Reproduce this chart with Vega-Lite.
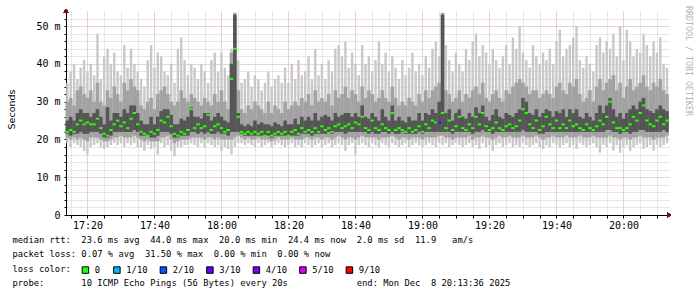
{
"$schema": "https://vega.github.io/schema/vega-lite/v6.json",
"width": 603, "height": 204,
"autosize": "none",
"padding": {"left": 66, "top": 11, "right": 28, "bottom": 82},
"background": "white",
"config": {"view": {"stroke": null}, "axis": {"labelOverlap": false}, "scale": {"continuousPadding": 0}},
"title": {"text": "RRDTOOL / TOBI OETIKER", "orient": "right", "anchor": "start", "angle": 90, "font": "DejaVu Sans Mono", "fontSize": 8.3, "fontWeight": "normal", "color": "#b4b4b4", "offset": 9, "dx": -5, "frame": "group", "baseline": "middle"},
"data": {"values": [
{"t":"2025-12-08T17:14","a":19,"b":20.5,"c":21.5,"m":22,"d":25,"e":30,"f":35,"l":"0"},
{"t":"2025-12-08T17:15","a":18,"b":20,"c":21,"m":22.5,"d":26,"e":31,"f":38,"l":"0"},
{"t":"2025-12-08T17:16","a":19,"b":20.5,"c":21.5,"m":22,"d":25,"e":29,"f":40,"l":"0"},
{"t":"2025-12-08T17:17","a":18.5,"b":20,"c":21.5,"m":24,"d":27,"e":33,"f":36,"l":"0"},
{"t":"2025-12-08T17:18","a":18,"b":20.5,"c":22,"m":25,"d":28,"e":34,"f":39,"l":"0"},
{"t":"2025-12-08T17:19","a":17,"b":20,"c":21.5,"m":24,"d":27,"e":32,"f":41,"l":"0"},
{"t":"2025-12-08T17:20","a":16,"b":19.5,"c":21.5,"m":24.5,"d":27,"e":31,"f":38,"l":"0"},
{"t":"2025-12-08T17:21","a":18,"b":20.5,"c":22,"m":24,"d":26,"e":33,"f":40,"l":"0"},
{"t":"2025-12-08T17:22","a":18.5,"b":20.5,"c":22,"m":24,"d":27,"e":30,"f":37,"l":"0"},
{"t":"2025-12-08T17:23","a":19,"b":20.5,"c":22,"m":25.5,"d":28,"e":35,"f":48,"l":"0"},
{"t":"2025-12-08T17:24","a":18,"b":20,"c":21.5,"m":23,"d":26,"e":30,"f":36,"l":"0"},
{"t":"2025-12-08T17:25","a":17.5,"b":19.5,"c":20.5,"m":21.5,"d":24,"e":29,"f":42,"l":"0"},
{"t":"2025-12-08T17:26","a":18,"b":19.5,"c":20.5,"m":21,"d":28.5,"e":33,"f":44,"l":"0"},
{"t":"2025-12-08T17:27","a":18.5,"b":20,"c":21,"m":22.5,"d":25,"e":31,"f":40,"l":"0"},
{"t":"2025-12-08T17:28","a":19,"b":20.5,"c":22,"m":24,"d":27,"e":34,"f":43,"l":"0"},
{"t":"2025-12-08T17:29","a":18.5,"b":20.5,"c":22,"m":25,"d":27,"e":32,"f":38,"l":"0"},
{"t":"2025-12-08T17:30","a":19,"b":21,"c":22,"m":23.5,"d":26,"e":30,"f":37,"l":"0"},
{"t":"2025-12-08T17:31","a":18,"b":20.5,"c":22,"m":24.5,"d":28,"e":35,"f":45,"l":"0"},
{"t":"2025-12-08T17:32","a":19,"b":20.5,"c":22,"m":23,"d":27,"e":33,"f":39,"l":"0"},
{"t":"2025-12-08T17:33","a":18.5,"b":20.5,"c":22,"m":25.5,"d":29,"e":36,"f":44,"l":"0"},
{"t":"2025-12-08T17:34","a":19,"b":21,"c":22.5,"m":27,"d":29,"e":34,"f":40,"l":"0"},
{"t":"2025-12-08T17:35","a":18,"b":20.5,"c":22,"m":24,"d":27,"e":33,"f":38,"l":"0"},
{"t":"2025-12-08T17:36","a":18,"b":20,"c":21,"m":22,"d":25,"e":29,"f":36,"l":"0"},
{"t":"2025-12-08T17:37","a":17,"b":19.5,"c":21,"m":21.5,"d":24,"e":28,"f":34,"l":"0"},
{"t":"2025-12-08T17:38","a":18.5,"b":20,"c":21,"m":21,"d":24,"e":30,"f":41,"l":"0"},
{"t":"2025-12-08T17:39","a":17.5,"b":19.5,"c":20.5,"m":22,"d":26,"e":31,"f":45,"l":"0"},
{"t":"2025-12-08T17:40","a":18,"b":19.5,"c":20.5,"m":21.5,"d":24,"e":28,"f":39,"l":"0"},
{"t":"2025-12-08T17:41","a":16,"b":19.5,"c":21,"m":22.5,"d":26,"e":32,"f":43,"l":"0"},
{"t":"2025-12-08T17:42","a":19,"b":20.5,"c":22,"m":25,"d":27.5,"e":33,"f":42,"l":"0"},
{"t":"2025-12-08T17:43","a":18,"b":20.5,"c":22,"m":24.5,"d":28,"e":34,"f":38,"l":"0"},
{"t":"2025-12-08T17:44","a":18.5,"b":21,"c":22,"m":26,"d":28,"e":32,"f":37,"l":"0"},
{"t":"2025-12-08T17:45","a":17,"b":20,"c":21.5,"m":23.5,"d":26.5,"e":30,"f":40,"l":"0"},
{"t":"2025-12-08T17:46","a":15.5,"b":19,"c":20.5,"m":21.5,"d":24,"e":29,"f":35,"l":"0"},
{"t":"2025-12-08T17:47","a":18,"b":19.5,"c":20.5,"m":21,"d":24,"e":30,"f":44,"l":"0"},
{"t":"2025-12-08T17:48","a":18,"b":20,"c":21,"m":22,"d":25.5,"e":33,"f":47,"l":"0"},
{"t":"2025-12-08T17:49","a":18.5,"b":20,"c":21,"m":21.5,"d":25,"e":31,"f":41,"l":"0"},
{"t":"2025-12-08T17:50","a":18.5,"b":20,"c":21,"m":22.5,"d":26,"e":30,"f":37,"l":"0"},
{"t":"2025-12-08T17:51","a":19,"b":20.5,"c":22,"m":28,"d":28.5,"e":32,"f":40,"l":"0"},
{"t":"2025-12-08T17:52","a":18.5,"b":20.5,"c":22,"m":23,"d":26,"e":31,"f":39,"l":"0"},
{"t":"2025-12-08T17:53","a":18,"b":20.5,"c":21.5,"m":24,"d":26,"e":30,"f":36,"l":"0"},
{"t":"2025-12-08T17:54","a":19,"b":20.5,"c":22,"m":23,"d":25.5,"e":29,"f":40,"l":"0"},
{"t":"2025-12-08T17:55","a":18,"b":20,"c":21.5,"m":23.5,"d":27,"e":31,"f":38,"l":"0"},
{"t":"2025-12-08T17:56","a":19,"b":20.5,"c":22,"m":26.5,"d":27,"e":30,"f":35,"l":"0"},
{"t":"2025-12-08T17:57","a":18.5,"b":20.5,"c":21.5,"m":22.5,"d":25,"e":29,"f":41,"l":"0"},
{"t":"2025-12-08T17:58","a":18,"b":20,"c":21.5,"m":23.5,"d":26,"e":32,"f":43,"l":"0"},
{"t":"2025-12-08T17:59","a":18.5,"b":20.5,"c":22,"m":24,"d":27,"e":30,"f":38,"l":"0"},
{"t":"2025-12-08T18:00","a":17,"b":20,"c":21.5,"m":23,"d":26,"e":33,"f":43,"l":"0"},
{"t":"2025-12-08T18:01","a":18,"b":20,"c":21.5,"m":22,"d":25,"e":30,"f":39,"l":"0"},
{"t":"2025-12-08T18:02","a":17.5,"b":20,"c":21,"m":22.5,"d":24.5,"e":28,"f":37,"l":"0"},
{"t":"2025-12-08T18:03","a":16,"b":20,"c":22,"m":36,"d":40,"e":43,"f":44,"l":"0"},
{"t":"2025-12-08T18:04","a":18,"b":20.5,"c":22,"m":44,"d":53,"e":53.5,"f":53.5,"l":"0"},
{"t":"2025-12-08T18:05","a":19,"b":21,"c":22,"m":26,"d":27,"e":33,"f":41,"l":"0"},
{"t":"2025-12-08T18:06","a":19,"b":20.5,"c":21.5,"m":22,"d":24,"e":28,"f":35,"l":"0"},
{"t":"2025-12-08T18:07","a":18.5,"b":20,"c":21,"m":21.5,"d":23.5,"e":27,"f":36,"l":"0"},
{"t":"2025-12-08T18:08","a":19,"b":20.5,"c":21,"m":22,"d":24,"e":29,"f":38,"l":"0"},
{"t":"2025-12-08T18:09","a":18.5,"b":20,"c":21,"m":21.5,"d":23.5,"e":28,"f":34,"l":"0"},
{"t":"2025-12-08T18:10","a":18,"b":20,"c":21,"m":22,"d":25,"e":30,"f":37,"l":"0"},
{"t":"2025-12-08T18:11","a":19,"b":20.5,"c":21,"m":21.5,"d":24,"e":29,"f":36,"l":"0"},
{"t":"2025-12-08T18:12","a":18,"b":20,"c":21,"m":22,"d":24.5,"e":28,"f":33,"l":"0"},
{"t":"2025-12-08T18:13","a":18.5,"b":20,"c":21,"m":21,"d":24,"e":27,"f":35,"l":"0"},
{"t":"2025-12-08T18:14","a":19,"b":20,"c":21,"m":22,"d":24,"e":30,"f":38,"l":"0"},
{"t":"2025-12-08T18:15","a":18,"b":19.5,"c":20.5,"m":21,"d":23.5,"e":27,"f":34,"l":"0"},
{"t":"2025-12-08T18:16","a":18.5,"b":20,"c":21,"m":21.5,"d":24.5,"e":29,"f":36,"l":"0"},
{"t":"2025-12-08T18:17","a":19,"b":20.5,"c":21,"m":22,"d":24,"e":28,"f":37,"l":"0"},
{"t":"2025-12-08T18:18","a":18.5,"b":20,"c":21,"m":21.5,"d":23.5,"e":27,"f":35,"l":"0"},
{"t":"2025-12-08T18:19","a":18,"b":20,"c":21,"m":22,"d":25,"e":30,"f":39,"l":"0"},
{"t":"2025-12-08T18:20","a":18.5,"b":20,"c":21,"m":21,"d":24,"e":28,"f":35,"l":"0"},
{"t":"2025-12-08T18:21","a":19,"b":20.5,"c":21,"m":22,"d":24,"e":29,"f":40,"l":"0"},
{"t":"2025-12-08T18:22","a":18,"b":20,"c":21,"m":22.5,"d":25.5,"e":30,"f":36,"l":"0"},
{"t":"2025-12-08T18:23","a":18.5,"b":20,"c":21,"m":21.5,"d":24,"e":29,"f":41,"l":"0"},
{"t":"2025-12-08T18:24","a":18,"b":20,"c":21.5,"m":23,"d":26,"e":31,"f":37,"l":"0"},
{"t":"2025-12-08T18:25","a":19,"b":20.5,"c":21.5,"m":22,"d":25,"e":30,"f":38,"l":"0"},
{"t":"2025-12-08T18:26","a":18.5,"b":20.5,"c":21.5,"m":22.5,"d":26,"e":32,"f":42,"l":"0"},
{"t":"2025-12-08T18:27","a":18,"b":20,"c":21,"m":22,"d":25,"e":29,"f":36,"l":"0"},
{"t":"2025-12-08T18:28","a":18.5,"b":20.5,"c":21.5,"m":23,"d":27,"e":33,"f":44,"l":"0"},
{"t":"2025-12-08T18:29","a":19,"b":20.5,"c":21.5,"m":22,"d":25,"e":30,"f":37,"l":"0"},
{"t":"2025-12-08T18:30","a":18,"b":20,"c":21.5,"m":23.5,"d":26,"e":31,"f":40,"l":"0"},
{"t":"2025-12-08T18:31","a":18.5,"b":20.5,"c":21.5,"m":22.5,"d":26.5,"e":30,"f":36,"l":"0"},
{"t":"2025-12-08T18:32","a":19,"b":20.5,"c":22,"m":23,"d":26,"e":32,"f":41,"l":"0"},
{"t":"2025-12-08T18:33","a":18,"b":20,"c":21.5,"m":22,"d":25,"e":29,"f":38,"l":"0"},
{"t":"2025-12-08T18:34","a":18.5,"b":20.5,"c":22,"m":23.5,"d":27,"e":33,"f":44,"l":"0"},
{"t":"2025-12-08T18:35","a":19,"b":21,"c":22,"m":24,"d":26,"e":31,"f":45,"l":"0"},
{"t":"2025-12-08T18:36","a":18.5,"b":20.5,"c":22,"m":23,"d":26.5,"e":32,"f":42,"l":"0"},
{"t":"2025-12-08T18:37","a":17,"b":20,"c":21.5,"m":23.5,"d":27,"e":34,"f":46,"l":"0"},
{"t":"2025-12-08T18:38","a":18.5,"b":20.5,"c":22,"m":24,"d":27,"e":31,"f":39,"l":"0"},
{"t":"2025-12-08T18:39","a":19,"b":20.5,"c":22,"m":23,"d":26,"e":33,"f":43,"l":"0"},
{"t":"2025-12-08T18:40","a":16,"b":20,"c":22,"m":24.5,"d":27,"e":32,"f":40,"l":"0"},
{"t":"2025-12-08T18:41","a":18.5,"b":20.5,"c":22,"m":24,"d":26,"e":30,"f":37,"l":"0"},
{"t":"2025-12-08T18:42","a":19,"b":21,"c":22,"m":26,"d":29,"e":34,"f":45,"l":"0"},
{"t":"2025-12-08T18:43","a":18.5,"b":20.5,"c":22,"m":23,"d":26,"e":31,"f":40,"l":"0"},
{"t":"2025-12-08T18:44","a":18,"b":20.5,"c":21.5,"m":22.5,"d":25.5,"e":33,"f":42,"l":"0"},
{"t":"2025-12-08T18:45","a":19,"b":20.5,"c":22,"m":25,"d":27,"e":32,"f":38,"l":"0"},
{"t":"2025-12-08T18:46","a":18.5,"b":20.5,"c":21.5,"m":23,"d":26,"e":30,"f":41,"l":"0"},
{"t":"2025-12-08T18:47","a":18,"b":20,"c":21.5,"m":22.5,"d":25,"e":31,"f":46,"l":"0"},
{"t":"2025-12-08T18:48","a":19,"b":20.5,"c":22,"m":24,"d":28,"e":33,"f":40,"l":"0"},
{"t":"2025-12-08T18:49","a":18.5,"b":20.5,"c":22,"m":23,"d":26,"e":31,"f":43,"l":"0"},
{"t":"2025-12-08T18:50","a":18,"b":20.5,"c":21.5,"m":22.5,"d":25,"e":30,"f":38,"l":"0"},
{"t":"2025-12-08T18:51","a":19,"b":21,"c":22,"m":27,"d":29,"e":34,"f":42,"l":"0"},
{"t":"2025-12-08T18:52","a":18.5,"b":20.5,"c":21.5,"m":22.5,"d":25,"e":31,"f":39,"l":"0"},
{"t":"2025-12-08T18:53","a":18,"b":20,"c":21.5,"m":23,"d":26,"e":29,"f":36,"l":"0"},
{"t":"2025-12-08T18:54","a":18.5,"b":20.5,"c":22,"m":22.5,"d":25,"e":30,"f":41,"l":"0"},
{"t":"2025-12-08T18:55","a":19,"b":20.5,"c":21.5,"m":22,"d":24.5,"e":29,"f":37,"l":"0"},
{"t":"2025-12-08T18:56","a":18,"b":20,"c":21.5,"m":23,"d":26,"e":31,"f":39,"l":"0"},
{"t":"2025-12-08T18:57","a":18.5,"b":20.5,"c":21.5,"m":22,"d":25,"e":30,"f":43,"l":"0"},
{"t":"2025-12-08T18:58","a":19,"b":20.5,"c":21.5,"m":22.5,"d":25,"e":29,"f":38,"l":"0"},
{"t":"2025-12-08T18:59","a":18.5,"b":20.5,"c":22,"m":23.5,"d":27,"e":32,"f":40,"l":"0"},
{"t":"2025-12-08T19:00","a":18,"b":20,"c":21.5,"m":22,"d":25,"e":30,"f":37,"l":"0"},
{"t":"2025-12-08T19:01","a":18.5,"b":20.5,"c":22,"m":24,"d":27,"e":33,"f":42,"l":"0"},
{"t":"2025-12-08T19:02","a":19,"b":20.5,"c":22,"m":23,"d":26.5,"e":31,"f":39,"l":"0"},
{"t":"2025-12-08T19:03","a":18.5,"b":20.5,"c":22,"m":25,"d":28,"e":33,"f":44,"l":"0"},
{"t":"2025-12-08T19:04","a":18,"b":20.5,"c":22,"m":24.5,"d":27,"e":34,"f":46,"l":"0"},
{"t":"2025-12-08T19:05","a":19,"b":21,"c":22,"m":24.5,"d":30,"e":35,"f":42,"l":"3/10"},
{"t":"2025-12-08T19:06","a":18.5,"b":21,"c":22,"m":27,"d":53,"e":53.5,"f":53.5,"l":"0"},
{"t":"2025-12-08T19:07","a":19,"b":20.5,"c":22,"m":23,"d":27,"e":33,"f":45,"l":"0"},
{"t":"2025-12-08T19:08","a":18,"b":20.5,"c":22,"m":25,"d":28,"e":32,"f":41,"l":"0"},
{"t":"2025-12-08T19:09","a":18.5,"b":20,"c":21.5,"m":22.5,"d":25,"e":30,"f":38,"l":"0"},
{"t":"2025-12-08T19:10","a":19,"b":20.5,"c":22,"m":23.5,"d":27,"e":31,"f":43,"l":"0"},
{"t":"2025-12-08T19:11","a":18.5,"b":20.5,"c":22,"m":26,"d":28,"e":33,"f":40,"l":"0"},
{"t":"2025-12-08T19:12","a":18,"b":20.5,"c":22,"m":23,"d":26,"e":30,"f":38,"l":"0"},
{"t":"2025-12-08T19:13","a":18.5,"b":20.5,"c":22,"m":22.5,"d":25.5,"e":32,"f":44,"l":"0"},
{"t":"2025-12-08T19:14","a":19,"b":21,"c":22,"m":24,"d":27,"e":31,"f":41,"l":"0"},
{"t":"2025-12-08T19:15","a":18,"b":20,"c":21.5,"m":23,"d":26,"e":33,"f":46,"l":"0"},
{"t":"2025-12-08T19:16","a":18.5,"b":20.5,"c":22,"m":26,"d":28.5,"e":34,"f":48,"l":"0"},
{"t":"2025-12-08T19:17","a":17.5,"b":20.5,"c":22,"m":24,"d":27,"e":32,"f":42,"l":"0"},
{"t":"2025-12-08T19:18","a":19,"b":21,"c":22.5,"m":27,"d":29,"e":35,"f":45,"l":"0"},
{"t":"2025-12-08T19:19","a":18,"b":20.5,"c":22,"m":23.5,"d":26,"e":31,"f":43,"l":"0"},
{"t":"2025-12-08T19:20","a":18.5,"b":20.5,"c":22,"m":22.5,"d":25,"e":30,"f":40,"l":"0"},
{"t":"2025-12-08T19:21","a":17,"b":20,"c":21.5,"m":23,"d":26.5,"e":32,"f":44,"l":"0"},
{"t":"2025-12-08T19:22","a":18.5,"b":20.5,"c":22,"m":24.5,"d":28,"e":33,"f":41,"l":"0"},
{"t":"2025-12-08T19:23","a":19,"b":21,"c":22,"m":23,"d":26,"e":31,"f":39,"l":"0"},
{"t":"2025-12-08T19:24","a":18,"b":20.5,"c":22,"m":22.5,"d":25.5,"e":30,"f":42,"l":"0"},
{"t":"2025-12-08T19:25","a":18.5,"b":20.5,"c":22,"m":23.5,"d":27,"e":33,"f":45,"l":"0"},
{"t":"2025-12-08T19:26","a":19,"b":21,"c":22,"m":24,"d":26.5,"e":32,"f":40,"l":"0"},
{"t":"2025-12-08T19:27","a":18,"b":20.5,"c":22,"m":23,"d":26,"e":34,"f":47,"l":"0"},
{"t":"2025-12-08T19:28","a":18.5,"b":20.5,"c":22,"m":23.5,"d":27,"e":35,"f":44,"l":"0"},
{"t":"2025-12-08T19:29","a":18,"b":20.5,"c":22,"m":25,"d":28,"e":36,"f":50,"l":"0"},
{"t":"2025-12-08T19:30","a":19,"b":21,"c":22.5,"m":28,"d":31,"e":35,"f":43,"l":"0"},
{"t":"2025-12-08T19:31","a":18.5,"b":20.5,"c":22,"m":27,"d":30,"e":34,"f":41,"l":"0"},
{"t":"2025-12-08T19:32","a":18,"b":20.5,"c":22,"m":24,"d":27,"e":32,"f":39,"l":"0"},
{"t":"2025-12-08T19:33","a":18.5,"b":20.5,"c":22,"m":23,"d":26.5,"e":33,"f":45,"l":"0"},
{"t":"2025-12-08T19:34","a":19,"b":21,"c":22,"m":25,"d":28,"e":33,"f":42,"l":"0"},
{"t":"2025-12-08T19:35","a":18,"b":20.5,"c":21.5,"m":22.5,"d":26,"e":31,"f":40,"l":"0"},
{"t":"2025-12-08T19:36","a":17.5,"b":20,"c":21.5,"m":23.5,"d":27,"e":32,"f":43,"l":"0"},
{"t":"2025-12-08T19:37","a":18.5,"b":20.5,"c":22,"m":26,"d":28,"e":33,"f":41,"l":"0"},
{"t":"2025-12-08T19:38","a":18,"b":20.5,"c":22,"m":24,"d":27.5,"e":32,"f":44,"l":"0"},
{"t":"2025-12-08T19:39","a":19,"b":21,"c":22,"m":23,"d":26,"e":31,"f":40,"l":"0"},
{"t":"2025-12-08T19:40","a":18.5,"b":20.5,"c":22,"m":25,"d":27.5,"e":34,"f":46,"l":"0"},
{"t":"2025-12-08T19:41","a":18,"b":20.5,"c":22,"m":23,"d":27,"e":35,"f":49,"l":"0"},
{"t":"2025-12-08T19:42","a":18.5,"b":20.5,"c":22,"m":24,"d":28,"e":33,"f":42,"l":"0"},
{"t":"2025-12-08T19:43","a":19,"b":21,"c":22,"m":23,"d":26,"e":32,"f":44,"l":"0"},
{"t":"2025-12-08T19:44","a":18,"b":20.5,"c":22,"m":25,"d":28,"e":35,"f":45,"l":"0"},
{"t":"2025-12-08T19:45","a":18.5,"b":20.5,"c":22,"m":23.5,"d":27,"e":34,"f":47,"l":"0"},
{"t":"2025-12-08T19:46","a":17.5,"b":20.5,"c":22,"m":24,"d":28,"e":36,"f":50,"l":"0"},
{"t":"2025-12-08T19:47","a":19,"b":21,"c":22,"m":23,"d":26,"e":32,"f":41,"l":"0"},
{"t":"2025-12-08T19:48","a":18.5,"b":20.5,"c":22,"m":22.5,"d":25.5,"e":30,"f":39,"l":"0"},
{"t":"2025-12-08T19:49","a":18,"b":20.5,"c":22,"m":24,"d":27,"e":31,"f":42,"l":"0"},
{"t":"2025-12-08T19:50","a":18.5,"b":20.5,"c":22,"m":23,"d":26,"e":33,"f":40,"l":"0"},
{"t":"2025-12-08T19:51","a":19,"b":21,"c":22,"m":22.5,"d":25,"e":30,"f":38,"l":"0"},
{"t":"2025-12-08T19:52","a":18,"b":20.5,"c":22,"m":23.5,"d":27,"e":34,"f":45,"l":"0"},
{"t":"2025-12-08T19:53","a":16.5,"b":20.5,"c":22,"m":25,"d":29,"e":36,"f":47,"l":"0"},
{"t":"2025-12-08T19:54","a":18.5,"b":20.5,"c":22,"m":24,"d":27,"e":33,"f":43,"l":"0"},
{"t":"2025-12-08T19:55","a":18,"b":20.5,"c":22.5,"m":26,"d":29,"e":35,"f":46,"l":"0"},
{"t":"2025-12-08T19:56","a":19,"b":21,"c":22.5,"m":30,"d":31,"e":36,"f":44,"l":"0"},
{"t":"2025-12-08T19:57","a":17,"b":20.5,"c":22,"m":24.5,"d":28,"e":37,"f":48,"l":"0"},
{"t":"2025-12-08T19:58","a":18.5,"b":20.5,"c":22,"m":23,"d":26,"e":33,"f":42,"l":"0"},
{"t":"2025-12-08T19:59","a":16.5,"b":20,"c":21.5,"m":23,"d":27,"e":35,"f":50,"l":"0"},
{"t":"2025-12-08T20:00","a":18,"b":20.5,"c":22,"m":22.5,"d":25.5,"e":31,"f":41,"l":"0"},
{"t":"2025-12-08T20:01","a":18.5,"b":20.5,"c":22,"m":23,"d":27,"e":34,"f":49,"l":"0"},
{"t":"2025-12-08T20:02","a":17,"b":20,"c":21.5,"m":24,"d":28,"e":36,"f":46,"l":"0"},
{"t":"2025-12-08T20:03","a":18,"b":20.5,"c":22,"m":26,"d":29,"e":33,"f":42,"l":"0"},
{"t":"2025-12-08T20:04","a":18.5,"b":20.5,"c":22,"m":25,"d":28,"e":34,"f":44,"l":"0"},
{"t":"2025-12-08T20:05","a":19,"b":21,"c":22.5,"m":27,"d":30,"e":35,"f":43,"l":"0"},
{"t":"2025-12-08T20:06","a":17.5,"b":20.5,"c":22.5,"m":29,"d":31,"e":37,"f":48,"l":"0"},
{"t":"2025-12-08T20:07","a":18,"b":20.5,"c":22,"m":25,"d":28,"e":34,"f":45,"l":"0"},
{"t":"2025-12-08T20:08","a":18.5,"b":20.5,"c":22,"m":24,"d":27.5,"e":33,"f":42,"l":"0"},
{"t":"2025-12-08T20:09","a":17,"b":20,"c":22,"m":23.5,"d":27,"e":35,"f":46,"l":"0"},
{"t":"2025-12-08T20:10","a":18.5,"b":20.5,"c":22,"m":25,"d":28,"e":34,"f":43,"l":"0"},
{"t":"2025-12-08T20:11","a":18,"b":20.5,"c":22,"m":26,"d":29,"e":36,"f":47,"l":"0"},
{"t":"2025-12-08T20:12","a":18.5,"b":20.5,"c":22.5,"m":24,"d":28,"e":33,"f":40,"l":"0"},
{"t":"2025-12-08T20:13","a":19,"b":21,"c":22,"m":25,"d":27.5,"e":32,"f":39,"l":"0"}
]},
"encoding": {
  "x": {"field": "t", "type": "temporal",
    "scale": {"domain": [{"year": 2025, "month": 12, "date": 8, "hours": 17, "minutes": 13, "seconds": 36}, {"year": 2025, "month": 12, "date": 8, "hours": 20, "minutes": 13, "seconds": 36}], "padding": 0},
    "axis": {
      "title": ["median\u00a0rtt:\u00a0\u00a023.6\u00a0ms\u00a0avg\u00a0\u00a044.0\u00a0ms\u00a0max\u00a0\u00a020.0\u00a0ms\u00a0min\u00a0\u00a024.4\u00a0ms\u00a0now\u00a0\u00a02.0\u00a0ms\u00a0sd\u00a0\u00a011.9\u00a0\u00a0\u00a0am/s",
                "packet\u00a0loss:\u00a00.07\u00a0%\u00a0avg\u00a0\u00a031.50\u00a0%\u00a0max\u00a0\u00a00.00\u00a0%\u00a0min\u00a0\u00a00.00\u00a0%\u00a0now",
                "loss\u00a0color:",
                "probe:\u00a0\u00a0\u00a0\u00a0\u00a0\u00a0\u00a010\u00a0ICMP\u00a0Echo\u00a0Pings\u00a0(56\u00a0Bytes)\u00a0every\u00a020s\u00a0\u00a0\u00a0\u00a0\u00a0\u00a0\u00a0\u00a0\u00a0\u00a0\u00a0\u00a0\u00a0end:\u00a0Mon\u00a0Dec\u00a0\u00a08\u00a020:13:36\u00a02025"],
      "titleFont": "DejaVu Sans Mono", "titleFontSize": 8.8, "titleFontWeight": "normal", "titleColor": "#000000",
      "titleAnchor": "start", "titleAlign": "left", "titleBaseline": "alphabetic", "titleX": -54, "titleY": 27.5, "titleLineHeight": 14.3, "titleLimit": 1000, "titleAngle": 0,
      "tickCount": 100,
      "values": [
        {"year": 2025, "month": 12, "date": 8, "hours": 17, "minutes": 15}, {"year": 2025, "month": 12, "date": 8, "hours": 17, "minutes": 20},
        {"year": 2025, "month": 12, "date": 8, "hours": 17, "minutes": 25}, {"year": 2025, "month": 12, "date": 8, "hours": 17, "minutes": 30},
        {"year": 2025, "month": 12, "date": 8, "hours": 17, "minutes": 35}, {"year": 2025, "month": 12, "date": 8, "hours": 17, "minutes": 40},
        {"year": 2025, "month": 12, "date": 8, "hours": 17, "minutes": 45}, {"year": 2025, "month": 12, "date": 8, "hours": 17, "minutes": 50},
        {"year": 2025, "month": 12, "date": 8, "hours": 17, "minutes": 55}, {"year": 2025, "month": 12, "date": 8, "hours": 18, "minutes": 0},
        {"year": 2025, "month": 12, "date": 8, "hours": 18, "minutes": 5}, {"year": 2025, "month": 12, "date": 8, "hours": 18, "minutes": 10},
        {"year": 2025, "month": 12, "date": 8, "hours": 18, "minutes": 15}, {"year": 2025, "month": 12, "date": 8, "hours": 18, "minutes": 20},
        {"year": 2025, "month": 12, "date": 8, "hours": 18, "minutes": 25}, {"year": 2025, "month": 12, "date": 8, "hours": 18, "minutes": 30},
        {"year": 2025, "month": 12, "date": 8, "hours": 18, "minutes": 35}, {"year": 2025, "month": 12, "date": 8, "hours": 18, "minutes": 40},
        {"year": 2025, "month": 12, "date": 8, "hours": 18, "minutes": 45}, {"year": 2025, "month": 12, "date": 8, "hours": 18, "minutes": 50},
        {"year": 2025, "month": 12, "date": 8, "hours": 18, "minutes": 55}, {"year": 2025, "month": 12, "date": 8, "hours": 19, "minutes": 0},
        {"year": 2025, "month": 12, "date": 8, "hours": 19, "minutes": 5}, {"year": 2025, "month": 12, "date": 8, "hours": 19, "minutes": 10},
        {"year": 2025, "month": 12, "date": 8, "hours": 19, "minutes": 15}, {"year": 2025, "month": 12, "date": 8, "hours": 19, "minutes": 20},
        {"year": 2025, "month": 12, "date": 8, "hours": 19, "minutes": 25}, {"year": 2025, "month": 12, "date": 8, "hours": 19, "minutes": 30},
        {"year": 2025, "month": 12, "date": 8, "hours": 19, "minutes": 35}, {"year": 2025, "month": 12, "date": 8, "hours": 19, "minutes": 40},
        {"year": 2025, "month": 12, "date": 8, "hours": 19, "minutes": 45}, {"year": 2025, "month": 12, "date": 8, "hours": 19, "minutes": 50},
        {"year": 2025, "month": 12, "date": 8, "hours": 19, "minutes": 55}, {"year": 2025, "month": 12, "date": 8, "hours": 20, "minutes": 0},
        {"year": 2025, "month": 12, "date": 8, "hours": 20, "minutes": 5}, {"year": 2025, "month": 12, "date": 8, "hours": 20, "minutes": 10}],
      "labelExpr": "minutes(datum.value) % 20 == 0 ? timeFormat(datum.value, '%H:%M') : ''",
      "labelFont": "DejaVu Sans Mono", "labelFontSize": 10, "labelColor": "#000000", "labelPadding": 2, "labelFlush": false, "labelOverlap": false,
      "grid": true, "gridColor": {"condition": {"test": "minutes(datum.value) % 20 == 0", "value": "#dca4a4"}, "value": "#cfcfcf"}, "gridDash": [1, 1], "gridWidth": 1,
      "domainColor": "#000000", "domainWidth": 1, "tickColor": "#000000", "tickSize": 3, "tickWidth": 1
    }
  }
},
"layer": [
  {"mark": {"type": "bar", "width": 2.4, "color": "#c8c8c8"},
   "encoding": {
     "y": {"field": "a", "type": "quantitative", "scale": {"domain": [0, 54], "nice": false, "padding": 0},
       "axis": {"title": "Seconds", "tickCount": 100, "values": [0,2,4,6,8,10,12,14,16,18,20,22,24,26,28,30,32,34,36,38,40,42,44,46,48,50,52],
         "labelExpr": "datum.value % 10 == 0 ? (datum.value == 0 ? '0\u00a0\u00a0' : datum.value + '\u00a0m') : ''",
         "labelFont": "DejaVu Sans Mono", "labelFontSize": 10, "labelColor": "#000000", "labelPadding": 4, "labelOverlap": false,
         "tickSize": 2, "tickColor": "#000000", "domainColor": "#000000",
         "grid": true, "gridColor": {"condition": {"test": "datum.value % 10 == 0", "value": "#dca4a4"}, "value": "#cfcfcf"}, "gridDash": [1, 1],
         "titleFont": "DejaVu Sans", "titleFontSize": 9.5, "titleFontWeight": "normal", "titleColor": "#000000",
         "titleAngle": -90, "titleX": -55, "titleY": 98, "titleAlign": "center", "titleBaseline": "middle"}},
     "y2": {"field": "f"}
   }},
  {"mark": {"type": "bar", "width": 3.6, "color": "#a2a2a2"},
   "encoding": {"y": {"field": "b", "type": "quantitative", "scale": {"domain": [0, 54], "nice": false, "padding": 0}}, "y2": {"field": "e"}}},
  {"mark": {"type": "bar", "width": 3.6, "color": "#555555"},
   "encoding": {"y": {"field": "c", "type": "quantitative", "scale": {"domain": [0, 54], "nice": false, "padding": 0}}, "y2": {"field": "d"}}},
  {"mark": {"type": "tick", "orient": "horizontal", "size": 3.4, "thickness": 2, "opacity": 1},
   "encoding": {
     "y": {"field": "m", "type": "quantitative", "scale": {"domain": [0, 54], "nice": false, "padding": 0}},
     "color": {"field": "l", "type": "nominal",
       "scale": {"domain": ["0", "1/10", "2/10", "3/10", "4/10", "5/10", "9/10"], "range": ["#26ff00", "#00b8ff", "#0059ff", "#5e00ff", "#7e00ff", "#dd00ff", "#ff0000"]},
       "legend": {"orient": "none", "legendX": 15, "legendY": 254.5, "direction": "horizontal", "title": null, "padding": 0,
         "symbolType": "square", "symbolSize": 42, "symbolOpacity": 1, "symbolStrokeColor": "#000000", "symbolStrokeWidth": 1,
         "labelFont": "DejaVu Sans Mono", "labelFontSize": 8.8, "labelColor": "#000000", "labelOffset": 5, "columnPadding": 10.5}}
   }},
  {"mark": {"type": "point", "shape": "triangle-right", "filled": true, "color": "#7f1010", "size": 22, "opacity": 1, "clip": false},
   "encoding": {
     "x": {"datum": {"year": 2025, "month": 12, "date": 8, "hours": 20, "minutes": 13, "seconds": 36}, "type": "temporal"},
     "y": {"datum": 0, "type": "quantitative", "scale": {"domain": [0, 54], "nice": false, "padding": 0}}}},
  {"mark": {"type": "point", "shape": "triangle-up", "filled": true, "color": "#7f1010", "size": 22, "opacity": 1, "clip": false},
   "encoding": {
     "x": {"datum": {"year": 2025, "month": 12, "date": 8, "hours": 17, "minutes": 13, "seconds": 36}, "type": "temporal"},
     "y": {"datum": 54, "type": "quantitative", "scale": {"domain": [0, 54], "nice": false, "padding": 0}}}}
]
}
